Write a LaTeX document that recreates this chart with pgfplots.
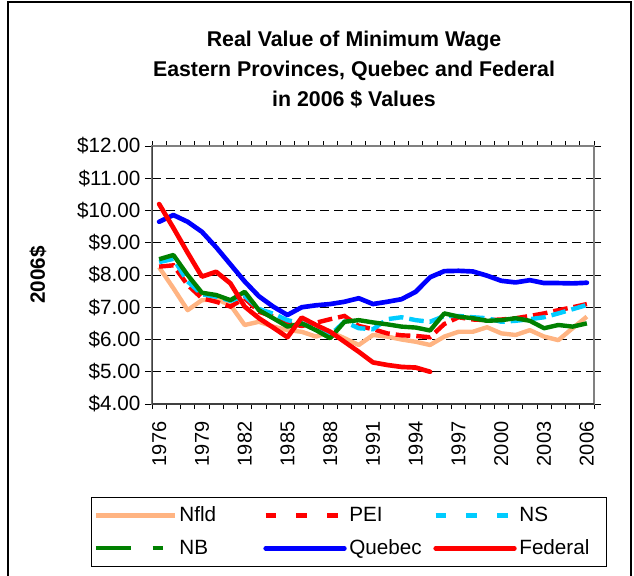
\documentclass[border=0pt]{standalone}
\usepackage{fontspec}
\setmainfont{Liberation Sans}
\usepackage{pgfplots}
\pgfplotsset{compat=1.18}
\usepackage{pgfplotstable}
\definecolor{nfldc}{HTML}{FFB482}
\definecolor{peic}{HTML}{FF0000}
\definecolor{nsc}{HTML}{00CCFF}
\definecolor{nbc}{HTML}{008000}
\definecolor{quec}{HTML}{0000FF}
\definecolor{fedc}{HTML}{FF0000}
\definecolor{axgray}{HTML}{808080}
\definecolor{axdark}{HTML}{404040}

% real minimum wage, 2006 dollars
\pgfplotstableread{
year nfld pei ns nb que
1976 8.24 8.26 8.40 8.49 9.65
1977 7.59 8.30 8.50 8.62 9.86
1978 6.91 7.69 7.80 8.00 9.65
1979 7.22 7.28 7.40 7.45 9.34
1980 7.25 7.17 7.33 7.38 8.86
1981 7.07 7.02 7.20 7.22 8.33
1982 6.45 7.28 7.35 7.48 7.80
1983 6.55 6.86 6.95 6.91 7.34
1984 6.40 6.71 6.80 6.66 7.02
1985 6.29 6.50 6.60 6.40 6.76
1986 6.24 6.42 6.50 6.50 7.00
1987 6.09 6.52 6.35 6.29 7.06
1988 6.24 6.63 6.14 6.04 7.10
1989 6.04 6.73 6.55 6.55 7.17
1990 5.83 6.42 6.35 6.60 7.28
1991 6.14 6.32 6.32 6.53 7.10
1992 6.09 6.19 6.63 6.47 7.17
1993 6.00 6.13 6.69 6.40 7.25
1994 5.93 6.11 6.60 6.37 7.48
1995 5.83 6.07 6.55 6.28 7.93
1996 6.09 6.48 6.73 6.81 8.12
1997 6.24 6.69 6.73 6.71 8.13
1998 6.24 6.62 6.69 6.66 8.11
1999 6.38 6.60 6.66 6.58 7.98
2000 6.19 6.62 6.55 6.60 7.82
2001 6.14 6.66 6.58 6.66 7.77
2002 6.29 6.73 6.63 6.58 7.84
2003 6.09 6.81 6.69 6.35 7.75
2004 5.98 6.91 6.81 6.45 7.75
2005 6.35 7.00 6.94 6.40 7.74
2006 6.71 7.10 7.07 6.50 7.76
}\wagetable

\pgfplotstableread{
year fed
1976 10.20
1977 9.46
1978 8.69
1979 7.95
1980 8.10
1981 7.74
1982 7.02
1983 6.66
1984 6.37
1985 6.07
1986 6.68
1987 6.45
1988 6.24
1989 5.93
1990 5.62
1991 5.29
1992 5.21
1993 5.15
1994 5.13
1995 5.00
}\fedtable

\begin{document}
\begin{tikzpicture}
% picture frame in reference pixels: px (X,Y) -> (0.75X-114, 303-0.75Y) pt
\useasboundingbox (-114pt,303pt) rectangle (361.5pt,-128.25pt);
\begin{scope}[x=0.75pt,y=-0.75pt,shift={(-152,-404)}]
\draw[black, line width=0.9pt] (8,600) -- (8,2) -- (631,2) -- (631,600);
\node[font=\fontsize{16}{22.5}\selectfont\bfseries, align=center] at (354,70)
  {Real Value of Minimum Wage\\Eastern Provinces, Quebec and Federal\\in 2006 \$ Values};
\node[font=\fontsize{15.5}{18}\selectfont\bfseries, rotate=90] at (38,275) {2006\$};
\end{scope}

\begin{axis}[
  anchor=south west,
  scale only axis,
  width=331.5pt, height=193.5pt,
  xmin=1975.5, xmax=2006.5,
  ymin=4, ymax=12,
  xtick={1976,1979,...,2006},
  minor xtick={1975.5,1976.5,...,2006.5},
  major x tick style={draw=none},
  minor tick length=3.75pt,
  major tick length=5.25pt,
  tick align=outside,
  tick style={black, line width=0.6pt},
  ytick={4,5,...,12},
  ymajorgrids,
  grid style={black, line width=0.6pt, dash pattern=on 7pt off 3.5pt},
  axis line style={draw=axgray, line width=2pt},
  /pgf/number format/assume math mode=true,
  xticklabel shift=4.5pt,
  xticklabel style={rotate=90, anchor=east, font=\fontsize{15}{18}\selectfont},
  x tick label style={/pgf/number format/1000 sep={}},
  yticklabel={\$\pgfmathprintnumber[fixed,fixed zerofill,precision=2]{\tick}},
  yticklabel style={font=\fontsize{15.5}{18}\selectfont},
  legend columns=3,
  legend cell align=left,
  legend style={at={(0.4446,-0.3605)}, anchor=north, draw=black, line width=0.7pt,
    font=\fontsize{15.5}{18}\selectfont, inner xsep=2pt, inner ysep=5pt, row sep=8pt},
  legend image code/.code={\draw[#1] (0pt,0pt) -- (59pt,0pt);},
]
\addplot[color=nfldc, line width=3.3pt, line join=round] table[x=year,y=nfld] {\wagetable};
\addlegendentry{\makebox[61pt][l]{Nfld}}
\addplot[color=peic, line width=3.3pt, dash pattern=on 11pt off 4.5pt,
  legend image code/.code={\draw[color=peic, line width=3.3pt, dash pattern=on 8pt off 15pt] (0pt,0pt) -- (59pt,0pt);}]
  table[x=year,y=pei] {\wagetable};
\addlegendentry{\makebox[61pt][l]{PEI}}
\addplot[color=nsc, line width=3.3pt, dash pattern=on 11pt off 4.5pt,
  legend image code/.code={\draw[color=nsc, line width=3.3pt, dash pattern=on 8pt off 15pt] (0pt,0pt) -- (59pt,0pt);}]
  table[x=year,y=ns] {\wagetable};
\addlegendentry{\makebox[61pt][l]{NS}}
\addplot[color=nbc, line width=3.3pt, line join=round,
  legend image code/.code={\draw[color=nbc, line width=3.3pt, dash pattern=on 26pt off 16.5pt on 7.5pt off 20pt] (0pt,0pt) -- (59pt,0pt);}]
  table[x=year,y=nb] {\wagetable};
\addlegendentry{\makebox[61pt][l]{NB}}
\addplot[color=quec, line width=3.5pt, line join=round, line cap=round] table[x=year,y=que] {\wagetable};
\addlegendentry{\makebox[61pt][l]{Quebec}}
\addplot[color=fedc, line width=3.5pt, line join=round, line cap=round] table[x=year,y=fed] {\fedtable};
\addlegendentry{\makebox[61pt][l]{Federal}}
\draw[axdark, line width=1.5pt] (rel axis cs:0,1) -- (rel axis cs:0,0) -- (rel axis cs:1,0);
\end{axis}
\end{tikzpicture}
\end{document}
